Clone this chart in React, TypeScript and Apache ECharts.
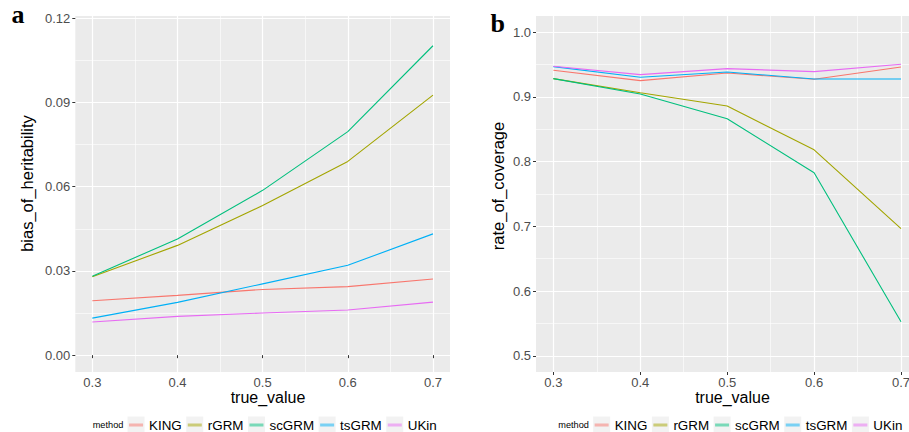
import React, { useEffect, useRef } from "react";
import * as echarts from "echarts";

const trueValues = [0.3, 0.4, 0.5, 0.6, 0.7];
const methods = ["KING", "rGRM", "scGRM", "tsGRM", "UKin"];
const methodColors = ["#F8766D", "#A3A500", "#00BF7D", "#00B0F6", "#E76BF3"];

const biasKING = [0.0194, 0.0213, 0.0234, 0.0244, 0.0271];
const biasRGRM = [0.0279, 0.0391, 0.0533, 0.069, 0.0926];
const biasSCGRM = [0.0281, 0.0414, 0.0587, 0.0796, 0.1102];
const biasTSGRM = [0.0132, 0.0188, 0.0254, 0.032, 0.0432];
const biasUKin = [0.0118, 0.0138, 0.015, 0.0161, 0.0189];

const covKING = [0.9412, 0.9251, 0.937, 0.9272, 0.9463];
const covRGRM = [0.9282, 0.9065, 0.8859, 0.8183, 0.6966];
const covSCGRM = [0.9282, 0.9045, 0.8663, 0.7827, 0.5526];
const covTSGRM = [0.9468, 0.9303, 0.9385, 0.9277, 0.9277];
const covUKin = [0.9474, 0.9344, 0.9437, 0.939, 0.9505];

const xTicks = [0.3, 0.4, 0.5, 0.6, 0.7];
const xMinorTicks = [0.35, 0.45, 0.55, 0.65];
const biasTicks = [0, 0.03, 0.06, 0.09, 0.12];
const biasMinorTicks = [0.015, 0.045, 0.075, 0.105];
const covTicks = [0.5, 0.6, 0.7, 0.8, 0.9, 1.0];
const covMinorTicks = [0.55, 0.65, 0.75, 0.85, 0.95];

const xTitle = "true_value";
const biasTitle = "bias_of_heritability";
const covTitle = "rate_of_coverage";
const legendTitle = "method";
const panelLabels = ["a", "b"];

const SANS = '"Liberation Sans", Arial, Helvetica, sans-serif';
const SERIF = '"Liberation Serif", "Times New Roman", serif';
const LEGEND_FONT = `13.4px ${SANS}`;
const LEGEND_TITLE_FONT = `9.2px ${SANS}`;

function measure(text: string, font: string): number {
  const c = document.createElement("canvas");
  const ctx = c.getContext("2d")!;
  ctx.font = font;
  return ctx.measureText(text).width;
}

function majorAxis(gridIndex: number, min: number, max: number, ticks: number[], decimals: number, isX: boolean) {
  return {
    type: "value",
    gridIndex,
    min,
    max,
    position: isX ? "bottom" : "left",
    axisLine: { show: false },
    axisTick: {
      show: true,
      length: 3,
      customValues: ticks,
      lineStyle: { color: "#333333", width: 1 },
    },
    axisLabel: {
      customValues: ticks,
      color: "#4D4D4D",
      fontSize: 13,
      fontFamily: SANS,
      margin: isX ? 4 : 5,
      formatter: (v: number) => v.toFixed(decimals),
    },
    splitLine: { show: true, lineStyle: { color: "#FFFFFF", width: 1.2 } },
  };
}

function minorAxis(gridIndex: number, min: number, max: number, ticks: number[], isX: boolean) {
  return {
    type: "value",
    gridIndex,
    min,
    max,
    position: isX ? "bottom" : "left",
    axisLine: { show: false },
    axisTick: { show: false, customValues: ticks },
    axisLabel: { show: false, customValues: ticks },
    splitLine: { show: true, lineStyle: { color: "#FFFFFF", width: 0.6 } },
  };
}

function legendGraphics(startX: number, cy: number) {
  const els: any[] = [];
  els.push({
    type: "text",
    x: startX,
    y: cy,
    style: { text: legendTitle, font: LEGEND_TITLE_FONT, fill: "#000000", verticalAlign: "middle", align: "left" },
  });
  let x = startX + measure(legendTitle, LEGEND_TITLE_FONT) + 5.7;
  methods.forEach((m, i) => {
    els.push({
      type: "rect",
      shape: { x: x - 1.5, y: cy - 8.5, width: 17, height: 17 },
      style: { fill: "#F2F2F2" },
    });
    els.push({
      type: "line",
      shape: { x1: x, y1: cy, x2: x + 14, y2: cy },
      style: { stroke: methodColors[i], lineWidth: 3, opacity: 0.5 },
    });
    const tx = x + 14 + 6;
    els.push({
      type: "text",
      x: tx,
      y: cy,
      style: { text: m, font: LEGEND_FONT, fill: "#000000", verticalAlign: "middle", align: "left" },
    });
    x = tx + measure(m, LEGEND_FONT) + 6;
  });
  return els;
}

export default function App() {
  const ref = useRef<HTMLDivElement>(null);
  useEffect(() => {
    if (!ref.current) return;
    const chart = echarts.init(ref.current, null, { renderer: "svg" });
    const biasData = [biasKING, biasRGRM, biasSCGRM, biasTSGRM, biasUKin];
    const covData = [covKING, covRGRM, covSCGRM, covTSGRM, covUKin];

    const series: any[] = [];
    methods.forEach((m, i) => {
      series.push({
        type: "line",
        name: m,
        xAxisIndex: 0,
        yAxisIndex: 0,
        data: trueValues.map((x, j) => [x, biasData[i][j]]),
        showSymbol: false,
        symbol: "none",
        lineStyle: { color: methodColors[i], width: 1.1 },
        itemStyle: { color: methodColors[i] },
        z: 3,
      });
    });
    methods.forEach((m, i) => {
      series.push({
        type: "line",
        name: m,
        xAxisIndex: 2,
        yAxisIndex: 2,
        data: trueValues.map((x, j) => [x, covData[i][j]]),
        showSymbol: false,
        symbol: "none",
        lineStyle: { color: methodColors[i], width: 1.1 },
        itemStyle: { color: methodColors[i] },
        z: 3,
      });
    });

    const graphic: any[] = [
      {
        type: "text",
        x: 11.5,
        y: 14,
        style: { text: panelLabels[0], font: `bold 26px ${SERIF}`, fill: "#000", verticalAlign: "middle", align: "left" },
      },
      {
        type: "text",
        x: 490.5,
        y: 23,
        style: { text: panelLabels[1], font: `bold 26px ${SERIF}`, fill: "#000", verticalAlign: "middle", align: "left" },
      },
      {
        type: "text",
        x: 268,
        y: 397,
        style: { text: xTitle, font: `16px ${SANS}`, fill: "#000", verticalAlign: "middle", align: "center" },
      },
      {
        type: "text",
        x: 732.5,
        y: 397,
        style: { text: xTitle, font: `16px ${SANS}`, fill: "#000", verticalAlign: "middle", align: "center" },
      },
      {
        type: "text",
        x: 27,
        y: 183.5,
        rotation: Math.PI / 2,
        style: { text: biasTitle, font: `16.5px ${SANS}`, fill: "#000", verticalAlign: "middle", align: "center" },
      },
      {
        type: "text",
        x: 498,
        y: 186,
        rotation: Math.PI / 2,
        style: { text: covTitle, font: `16.5px ${SANS}`, fill: "#000", verticalAlign: "middle", align: "center" },
      },
      ...legendGraphics(92.7, 425),
      ...legendGraphics(558.3, 425),
    ];

    chart.setOption({
      animation: false,
      backgroundColor: "#FFFFFF",
      grid: [
        { left: 75.3, right: 920 - 450, top: 16, bottom: 60, show: true, backgroundColor: "#EBEBEB", borderWidth: 0, containLabel: false },
        { left: 536, right: 920 - 918.4, top: 16, bottom: 60, show: true, backgroundColor: "#EBEBEB", borderWidth: 0, containLabel: false },
      ],
      xAxis: [
        majorAxis(0, 0.28, 0.72, xTicks, 1, true),
        minorAxis(0, 0.28, 0.72, xMinorTicks, true),
        majorAxis(1, 0.28, 0.72, xTicks, 1, true),
        minorAxis(1, 0.28, 0.72, xMinorTicks, true),
      ],
      yAxis: [
        majorAxis(0, -0.006, 0.1208, biasTicks, 2, false),
        minorAxis(0, -0.006, 0.1208, biasMinorTicks, false),
        majorAxis(1, 0.475, 1.025, covTicks, 1, false),
        minorAxis(1, 0.475, 1.025, covMinorTicks, false),
      ],
      series,
      graphic,
    });
    return () => chart.dispose();
  }, []);
  return (
    <div
      ref={ref}
      style={{ position: "fixed", left: 0, top: 0, width: 920, height: 432, background: "#FFFFFF" }}
    />
  );
}
